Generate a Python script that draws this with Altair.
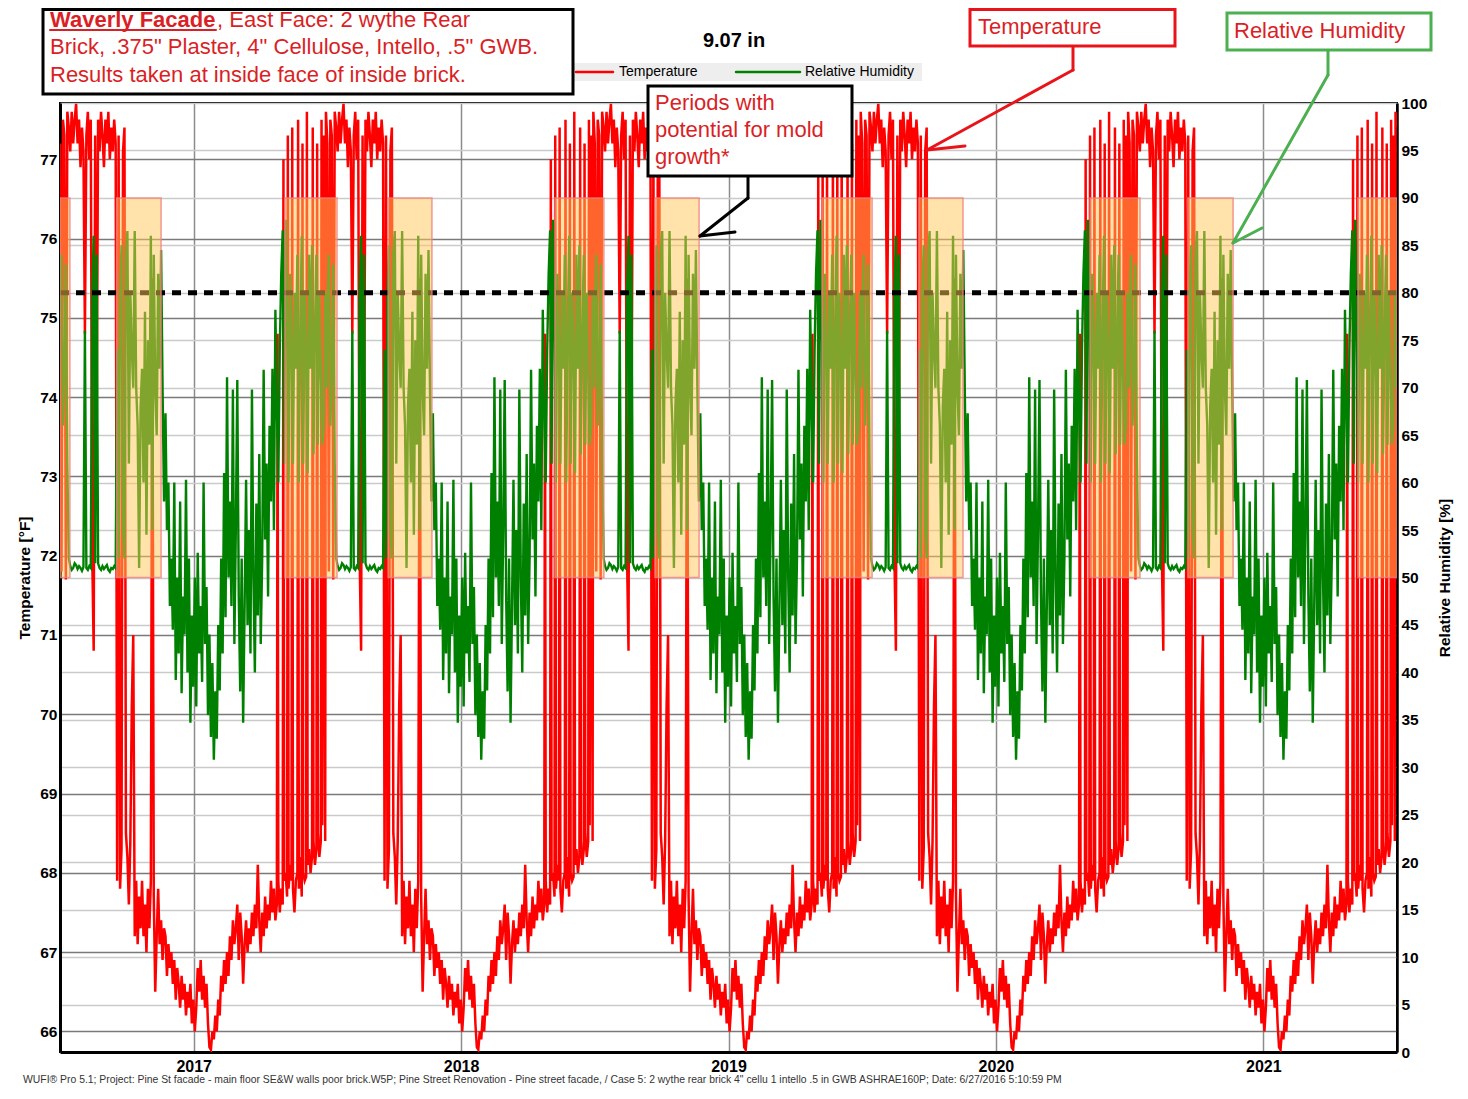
import altair as alt
import pandas as pd

# ---------------- data ----------------
# WUFI repeats the same climate year, so one annual cycle (July 1 -> June 30)
# is shown for each of the five simulated years.
# Temperature: every 2 days until day 278, then the spiky spring read day by day.
T_DAY = list(range(0, 280, 2)) + [
    280, 282, 284, 286, 288, 290, 292, 294, 296,
    297, 298, 300, 302, 304, 305, 306, 308, 310,
    311, 312, 314, 316, 317, 318, 320, 322, 324,
    325, 326, 328, 330, 331, 332, 334, 336, 337,
    338, 340, 342, 344, 345, 346, 348, 350, 351,
    352, 354, 356, 357, 358, 360, 362, 363, 364,
]
TEMP_F = [
    77.2, 71.8, 77.5, 77.3, 71.7, 77.6, 77.4, 77.1, 77.6, 77.2,
    77.5, 77.7, 77.2, 77.5, 76.9, 77.4, 77.1, 74.8, 77.3, 77.6,
    77.0, 77.5, 72.0, 70.8, 77.3, 73.4, 77.5, 77.1, 77.6, 77.3,
    76.9, 77.5, 77.2, 77.6, 77.0, 77.4, 77.1, 77.5, 77.2, 67.9,
    77.3, 67.8, 68.3, 77.1, 77.4, 68.5, 68.2, 67.6, 68.4, 70.1,
    71.0, 67.2, 67.9, 67.1, 67.7, 67.3, 67.9, 67.2, 67.6, 67.0,
    67.8, 67.3, 67.9, 75.5, 67.7, 66.5, 67.2, 67.8, 67.1, 67.4,
    66.9, 67.3, 67.2, 66.7, 67.1, 66.8, 67.0, 66.6, 66.9, 66.4,
    66.8, 66.6, 66.3, 66.7, 66.4, 66.6, 66.2, 66.5, 66.3, 66.6,
    66.1, 66.4, 66.0, 66.3, 66.8, 66.5, 66.9, 66.4, 66.7, 66.3,
    66.6, 66.1, 65.8, 65.77, 66.0, 65.9, 66.2, 66.0, 66.4, 66.2,
    66.7, 66.5, 66.9, 66.6, 67.0, 66.7, 67.2, 66.9, 67.4, 67.1,
    67.3, 67.6, 66.9, 67.5, 67.2, 66.6, 67.1, 67.4, 67.0, 67.3,
    67.1, 67.5, 67.2, 67.6, 67.3, 68.1, 67.4, 67.0, 67.5, 67.2,
    # spring, day by day around the switching spikes
    67.7, 67.3, 67.6, 67.4, 67.9, 67.5, 67.8, 67.4, 67.6,
    74.8, 67.9, 67.5, 67.8, 67.6, 77.0, 67.9, 68.0, 67.7,
    77.3, 67.8, 68.1, 67.9, 77.4, 67.8, 67.5, 67.9, 68.0,
    77.5, 67.8, 68.2, 67.7, 77.2, 68.0, 67.9, 67.95, 77.6,
    68.1, 68.3, 68.0, 68.2, 77.4, 68.4, 68.1, 68.3, 77.2,
    68.5, 68.2, 68.4, 77.5, 68.6, 77.3, 68.4, 77.6, 77.4,
]

# Relative humidity: every 2 days through the year.
RH_DAY = list(range(0, 365, 2))
RH_PCT = [
    78.0, 84.0, 66.0, 72.0, 83.0, 62.0, 52.0, 51.2, 50.8, 51.0,
    51.5, 51.3, 50.9, 51.2, 51.0, 50.7, 51.1, 76.0, 51.0, 50.8,
    51.2, 51.0, 80.0, 86.0, 51.5, 84.0, 51.5, 51.0, 50.8, 51.2,
    50.9, 51.1, 51.3, 50.8, 50.6, 51.0, 50.9, 51.2, 51.0, 74.0,
    52.0, 80.0, 85.0, 55.0, 52.0, 84.0, 86.5, 62.0, 80.0, 74.0,
    70.0, 86.5, 70.0, 66.0, 51.0, 68.0, 72.0, 60.0, 78.0, 54.5,
    75.0, 64.0, 86.0, 55.0, 84.0, 70.0, 65.0, 82.0, 72.0, 84.5,
    70.0, 58.0, 67.3, 55.0, 60.0, 47.0, 52.0, 44.5, 60.0, 39.2,
    50.0, 42.0, 58.0, 37.8, 48.0, 44.0, 60.3, 40.0, 52.0, 34.7,
    46.0, 38.5, 50.0, 36.4, 52.6, 42.0, 47.0, 39.0, 60.0, 43.0,
    49.0, 35.5, 44.0, 33.2, 41.0, 30.8, 38.0, 33.0, 45.0, 38.1,
    52.0, 42.0, 61.0, 45.8, 71.1, 50.0, 58.0, 47.0, 69.8, 43.0,
    55.0, 70.8, 48.0, 38.0, 52.0, 34.7, 47.0, 60.3, 45.0, 55.0,
    42.0, 69.8, 50.0, 40.0, 57.8, 46.0, 63.0, 43.0, 52.0, 71.9,
    54.0, 62.0, 48.0, 66.0, 58.0, 72.0, 55.0, 78.2, 68.0, 60.0,
    74.0, 82.0, 86.6, 62.0, 87.7, 78.0, 60.0, 82.0, 75.0, 62.0,
    80.0, 72.0, 84.0, 60.0, 76.0, 86.0, 62.0, 80.0, 74.0, 61.0,
    84.0, 72.0, 85.0, 63.0, 76.0, 84.0, 64.0, 80.0, 72.0, 64.0,
    66.0, 80.0, 70.0,
]

CYCLE_START = [2016.5, 2017.5, 2018.5, 2019.5, 2020.5]

MOLD_START = [2016.500, 2016.712, 2017.341, 2017.727, 2018.351, 2018.725,
              2019.350, 2019.712, 2020.352, 2020.718, 2021.354]
MOLD_END = [2016.537, 2016.878, 2017.536, 2017.891, 2018.534, 2018.890,
            2019.537, 2019.877, 2020.539, 2020.887, 2021.500]
MOLD_LOW = 50
MOLD_HIGH = 90
RH_LIMIT = 80

YEAR_TICKS = [2017, 2018, 2019, 2020, 2021]
TEMP_TICKS = list(range(66, 78))
RH_TICKS = list(range(0, 101, 5))

t_rows, h_rows = [], []
for start in CYCLE_START:
    for d, t in zip(T_DAY, TEMP_F):
        t_rows.append({"year": start + d / 365.0, "temp": t})
    for d, h in zip(RH_DAY, RH_PCT):
        h_rows.append({"year": start + d / 365.0, "rh": h})
df_t = pd.DataFrame(t_rows)
df_h = pd.DataFrame(h_rows)

mold_df = pd.DataFrame({
    "s": MOLD_START, "e": MOLD_END,
    "lo": [MOLD_LOW] * len(MOLD_START), "hi": [MOLD_HIGH] * len(MOLD_START),
})
limit_df = pd.DataFrame({"v": [RH_LIMIT]})

FONT = "Liberation Sans"
RED_TXT = "#DA1F26"

x_scale = alt.Scale(domain=[2016.5, 2021.5], nice=False, zero=False)
x_axis = alt.Axis(values=YEAR_TICKS, format="d", title=None, grid=True,
                  gridColor="#8c8c8c", gridWidth=1.5, ticks=False, labelPadding=6,
                  labelFontSize=16, labelFontWeight="bold", labelColor="black",
                  labelFont=FONT, domainColor="black", domainWidth=3)

t_scale = alt.Scale(domain=[65.74, 77.71], nice=False, zero=False)
t_axis = alt.Axis(values=TEMP_TICKS, title=None, grid=True, gridColor="#7a7a7a",
                  gridWidth=1.5, ticks=False, labelPadding=3, labelFontSize=15.5,
                  labelFontWeight="bold", labelColor="black", labelFont=FONT,
                  domainColor="black", domainWidth=3, orient="left")

rh_scale = alt.Scale(domain=[0, 100], nice=False, zero=False)
rh_axis = alt.Axis(values=RH_TICKS, title=None, grid=True, gridColor="#cacaca",
                   gridWidth=1.5, ticks=False, labelPadding=4, labelFontSize=15.5,
                   labelFontWeight="bold", labelColor="black", labelFont=FONT,
                   domainColor="black", domainWidth=2.5, orient="right")

temp_line = alt.Chart(df_t).mark_line(color="#FF0000", strokeWidth=2.5, clip=True).encode(
    x=alt.X("year:Q", scale=x_scale, axis=x_axis),
    y=alt.Y("temp:Q", scale=t_scale, axis=t_axis),
)

rh_line = alt.Chart(df_h).mark_line(color="#008000", strokeWidth=2.4, clip=True).encode(
    x=alt.X("year:Q", scale=x_scale, axis=x_axis),
    y=alt.Y("rh:Q", scale=rh_scale, axis=rh_axis),
)

limit = alt.Chart(limit_df).mark_rule(color="black", strokeWidth=5, strokeDash=[9, 7]).encode(
    y=alt.Y("v:Q", scale=rh_scale, axis=rh_axis),
)

mold = alt.Chart(mold_df).mark_rect(
    fill="#FFC857", fillOpacity=0.5, stroke="#F08080", strokeOpacity=0.8, strokeWidth=1.5,
    clip=True,
).encode(
    x=alt.X("s:Q", scale=x_scale, axis=x_axis), x2="e",
    y=alt.Y("lo:Q", scale=rh_scale, axis=rh_axis), y2="hi",
)

rh_group = alt.layer(rh_line, limit, mold)

# ---------------- annotations (page pixel positions) ----------------
ONE = pd.DataFrame({"k": [0]})
OX, OY = 60, 103


def px(v):
    return alt.value(v - OX)


def py(v):
    return alt.value(v - OY)


def box(x1, y1, x2, y2, stroke, sw=3, fill="white"):
    return alt.Chart(ONE).mark_rect(fill=fill, stroke=stroke, strokeWidth=sw).encode(
        x=px(x1), x2=px(x2), y=py(y1), y2=py(y2))


def seg(x1, y1, x2, y2, color, sw=3):
    return alt.Chart(ONE).mark_rule(color=color, strokeWidth=sw, strokeCap="round").encode(
        x=px(x1), y=py(y1), x2=px(x2), y2=py(y2))


def label(x, y, s, size, color="black", weight="normal", align="left", angle=0):
    return alt.Chart(ONE).mark_text(
        text=s, font=FONT, fontSize=size, fontWeight=weight, color=color,
        align=align, baseline="middle", angle=angle,
    ).encode(x=px(x), y=py(y))


ann = []
# legend strip
ann.append(box(574, 63, 922, 81, "#EEEEEE", sw=0, fill="#EEEEEE"))
ann.append(seg(576, 72, 613, 72, "#FF0000", 2.5))
ann.append(label(619, 72, "Temperature", 14))
ann.append(seg(736, 72, 800, 72, "#008000", 2.5))
ann.append(label(805, 72, "Relative Humidity", 14))
# title
ann.append(label(734, 41, "9.07 in", 20, weight="bold", align="center"))
# top-left description box
ann.append(box(43, 9.5, 573, 94, "black", sw=3))
ann.append(label(50, 20, "Waverly Facade", 22, color=RED_TXT, weight="bold"))
ann.append(seg(50, 30, 216, 30, RED_TXT, 2))
ann.append(label(217, 20, ", East Face: 2 wythe Rear", 22, color=RED_TXT))
ann.append(label(50, 47, "Brick, .375\" Plaster, 4\" Cellulose, Intello, .5\" GWB.", 22, color=RED_TXT))
ann.append(label(50, 75, "Results taken at inside face of inside brick.", 22, color=RED_TXT))
# temperature callout
ann.append(seg(1073, 46, 1073, 70, "#E8141A", 3))
ann.append(seg(1073, 70, 927, 150, "#E8141A", 3))
ann.append(seg(927, 150, 965, 146, "#E8141A", 3))
ann.append(box(970, 9.5, 1175, 46, "#E8141A", sw=3))
ann.append(label(978, 27, "Temperature", 22, color=RED_TXT))
# relative humidity callout
ann.append(seg(1328, 50, 1328, 75, "#4CAF50", 3))
ann.append(seg(1328, 75, 1233, 243, "#4CAF50", 3))
ann.append(seg(1233, 243, 1262, 228, "#4CAF50", 3))
ann.append(box(1227, 13, 1431, 50, "#4CAF50", sw=3))
ann.append(label(1234, 31, "Relative Humidity", 22, color=RED_TXT))
# mold callout
ann.append(seg(748, 176, 748, 198, "black", 3))
ann.append(seg(748, 198, 700, 236, "black", 3))
ann.append(seg(700, 236, 735, 232, "black", 3))
ann.append(box(648, 86, 852, 176, "black", sw=3))
ann.append(label(655, 103, "Periods with", 22, color=RED_TXT))
ann.append(label(655, 130, "potential for mold", 22, color=RED_TXT))
ann.append(label(655, 157, "growth*", 22, color=RED_TXT))
# axis titles
ann.append(label(25, 578, "Temperature [°F]", 15.5, weight="bold", align="center", angle=270))
ann.append(label(1445, 578, "Relative Humidity [%]", 15.5, weight="bold", align="center", angle=270))
# footer
ann.append(label(23, 1080,
                 "WUFI® Pro 5.1; Project: Pine St facade - main floor SE&W walls poor brick.W5P; "
                 "Pine Street Renovation - Pine street facade, / Case 5:  2 wythe rear brick 4\" cellu 1 "
                 "intello .5 in GWB ASHRAE160P; Date: 6/27/2016 5:10:59 PM",
                 10.4, color="#333333"))

chart = alt.layer(temp_line, rh_group, *ann).resolve_scale(y="independent").properties(
    width=1337, height=949,
    padding={"left": 52, "top": 95, "right": 63, "bottom": 35},
    autosize=alt.AutoSizeParams(type="none"),
    background="white",
).configure_view(stroke="black", strokeWidth=2)

chart.save("out.html", embed_options={"renderer": "svg", "actions": False})
